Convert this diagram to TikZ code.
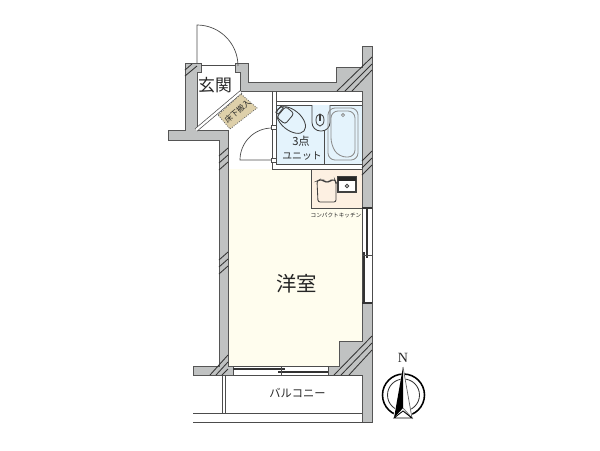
\documentclass[tikz,border=0pt]{standalone}
\usepackage{fontspec}
\setmainfont{Noto Sans CJK JP}
\newfontfamily\latinfont{Liberation Serif}
\definecolor{wallgray}{RGB}{192,194,194}
\definecolor{wallline}{RGB}{85,85,85}
\definecolor{roomcream}{RGB}{255,253,238}
\definecolor{kitchenorange}{RGB}{253,240,226}
\definecolor{bathblue}{RGB}{228,243,252}
\definecolor{boxtan}{RGB}{222,208,170}
\tikzset{
  wall/.style={draw=wallline,fill=wallgray,line width=.7pt},
  hatchline/.style={draw=black!80,line width=.6pt},
  thinline/.style={draw=black!70,line width=.5pt},
  fixture/.style={draw=black!75,line width=.6pt},
  tubline/.style={draw=black!45,line width=.6pt},
  sash/.style={draw=black!80,line width=1.2pt},
  label/.style={inner sep=0pt,text=black!85}
}
\begin{document}
\begin{tikzpicture}[x=.025cm,y=-.025cm]
\useasboundingbox (0,0) rectangle (600,450);
% floors
\fill[roomcream] (228,169)--(362,169)--(362,341)--(339,341)--(339,366)--(228,366)--cycle;
\fill[kitchenorange] (311,169) rectangle (362,208);
\draw[thinline] (311,169)--(311,208)--(362,208);
\fill[bathblue] (276,105) rectangle (362,164);
% walls
\draw[wall] (235,63)--(248,63)--(248,82)--(336,82)--(336,67)--(362,67)--(362,46)--(372,46)--(372,208)--(362,208)--(362,91)--(240,91)--(240,72)--(235,72)--cycle;
\draw[wall] (372,303)--(372,422)--(362,422)--(362,375)--(328,375)--(328,366)--(339,366)--(339,341)--(362,341)--(362,303)--cycle;
\draw[wall] (197,130)--(228,130)--(228,366)--(233,366)--(233,375)--(193,375)--(193,366)--(219,366)--(219,140)--(168,140)--(168,130)--(185,130)--(185,63)--(201,63)--(201,72)--(197,72)--cycle;
% hatching on walls
\foreach \ya in {0,7,14}
  \draw[hatchline] (219,{156+\ya})--(228,{148+\ya});
\foreach \ya in {0,7,14}
  \draw[hatchline] (219,{260+\ya})--(228,{252+\ya});
\draw[hatchline] (185,76)--(197,66) (185,70)--(192,64);
\draw[hatchline] (337,91)--(372,57) (345,91)--(372,64) (352,91)--(372,70);
\foreach \ya in {0,7,14}
  \draw[hatchline] (362,{161+\ya})--(372,{151+\ya});
\draw[hatchline] (334,375)--(372,336) (341,375)--(372,343) (349,375)--(372,350);
\draw[hatchline] (210,375)--(228,355) (216,375)--(228,362) (222,375)--(228,369);
% entrance door
\draw[thinline] (197,63)--(197,25) arc[start angle=-90,end angle=0,radius=41];
\draw[thinline] (201,65)--(235,65);
\draw[thinline,double=white,double distance=1.6pt] (196,130)--(241,92);
% shoe box
\draw[fill=boxtan,draw=black!60,densely dotted,line width=.6pt] (218,115)--(241,94)--(257,108)--(230,129)--cycle;
\node[label,rotate=40,font=\fontsize{5.5}{6}\selectfont] (shoebox) at (237.5,111.5) {床下搬入};
% bath partitions
\draw[thinline] (272,91)--(272,169)--(362,169) (276,91)--(276,164)--(362,164) (276,101)--(362,101) (276,105)--(362,105);
\draw[thinline] (324,131)--(324,164);
% inner door
\draw[thinline] (272,128) arc[start angle=-90,end angle=-180,radius=32] -- (272,160);
\draw[thinline,fill=white] (271,125) rectangle (276,129);
\draw[thinline,fill=white] (271,158) rectangle (276,162);
% toilet
\draw[fixture,rotate around={-40:(291,120)}] (291,120) ellipse[x radius=17,y radius=10];
\draw[fixture,rounded corners=2pt,rotate around={-40:(285,115)}] (280,108) rectangle (291,122);
\draw[fixture,rotate around={-40:(283,113)}] (277,109) rectangle (280,117);
% basin
\draw[fixture,fill=bathblue,rounded corners=6pt] (312,105)--(312,131)--(330,131)--(330,105);
\draw[fixture] (320,120) ellipse[x radius=4,y radius=6];
\draw[fixture,line width=.9pt] (320,114)--(320,121);
% bath tub
\draw[tubline,rounded corners=5pt] (328,108) rectangle (358,160);
\draw[tubline,rounded corners=5pt] (331,111)--(355,111)--(355,157)--(339,157)--(331,145)--cycle;
\draw[tubline] (343,115) circle[radius=1.6];
% kitchen
\draw[fixture,rounded corners=1.5pt] (317,181)--(319,180)--(323,180)--(325,182)--(329,182)--(331,180)--(335,180)--(336,182)--(336,202)--(318,202)--cycle;
\draw[fixture,fill=white,line width=.9pt] (338,177) rectangle (356,192);
\fill[black!85] (338,177) rectangle (356,181);
\draw[fixture] (347,186) circle[radius=1.7];
% window east
\fill[white] (362,208) rectangle (372,303);
\draw[thinline] (362,208)--(362,303) (372,208)--(372,303);
\draw[sash] (362,208)--(372,208) (362,303)--(372,303);
\draw[sash] (367,208)--(367,258) (364,252)--(364,303);
\draw[thinline] (362,255)--(372,255);
% window south
\fill[white] (233,367) rectangle (328,375);
\draw[thinline] (233,366)--(328,366) (233,375)--(328,375) (233,366)--(233,375) (328,366)--(328,375);
\draw[sash] (233,369)--(285,369) (278,372)--(328,372);
\draw[thinline] (281,366)--(281,375);
% balcony
\draw[thinline] (193,413)--(362,413) (193,422)--(372,422) (233,375)--(362,375);
\draw[thinline] (222,375)--(222,413) (225,375)--(225,413);
% labels
\node[label,font=\fontsize{12}{12}\selectfont] (genkan) at (215,85) {玄関};
\node[label,font=\fontsize{14.5}{15}\selectfont] (yoshitsu) at (296.5,284) {洋室};
\node[label,font=\fontsize{8}{9}\selectfont] (toilet) at (301,141) {3点};
\node[label,font=\fontsize{7}{8}\selectfont] (unit) at (302,156) {ユニット};
\node[label,font=\fontsize{4}{5}\selectfont] (kitchen) at (336,215) {コンパクトキッチン};
\node[label,font=\fontsize{8}{9}\selectfont] (balcony) at (297.5,393) {バルコニー};
% compass
\node[label,font=\latinfont\fontsize{10}{10}\selectfont] (north) at (403,358) {N};
\draw[black,line width=1.1pt] (403.5,395) circle[radius=21];
\draw[black!80,line width=.6pt] (403.5,395) circle[radius=16];
\fill[white] (403,367)--(413,418)--(393,418)--cycle;
\fill[black] (403,367)--(403,408)--(394,418)--cycle;
\draw[black!60,line width=.5pt] (403,367)--(412,418)--(403,408);
\draw[black,line width=.6pt] (394,418)--(403,411)--(412,418)--cycle;
\end{tikzpicture}
\end{document}
